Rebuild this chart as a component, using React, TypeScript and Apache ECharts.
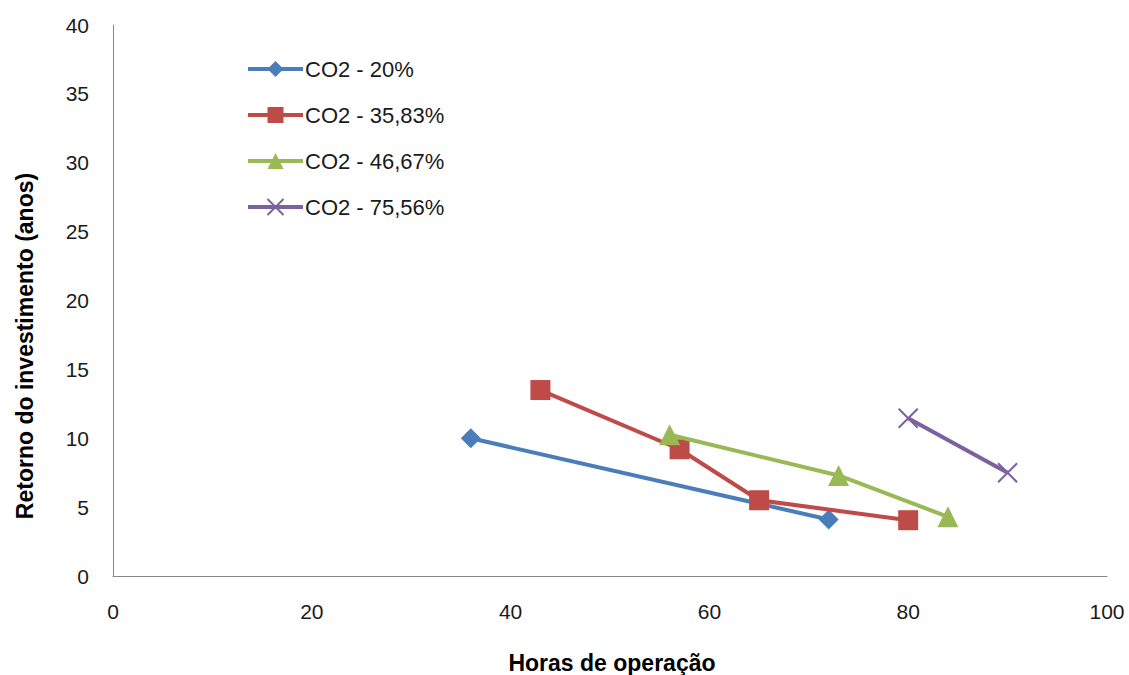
import React, { useEffect, useRef } from "react";
import * as echarts from "echarts";

const seriesNames = ["CO2 - 20%", "CO2 - 35,83%", "CO2 - 46,67%", "CO2 - 75,56%"];
const blueData = [[36, 10.0], [72, 4.1]];
const redData = [[43, 13.5], [57, 9.2], [65, 5.5], [80, 4.05]];
const greenData = [[56, 10.25], [73, 7.3], [84, 4.3]];
const purpleData = [[80, 11.45], [90, 7.5]];
const colors = ["#4A7EBB", "#BE4B48", "#98B954", "#7D60A0"];
const xTitle = "Horas de operação";
const yTitle = "Retorno do investimento (anos)";

const FONT = "Liberation Sans, Arial, sans-serif";

export default function App() {
  const ref = useRef<HTMLDivElement>(null);
  useEffect(() => {
    if (!ref.current) return;
    const chart = echarts.init(ref.current, null, { renderer: "svg" });
    const mk = (i: number, data: number[][], symbol: string, size: number, extra: any = {}) => ({
      type: "line",
      name: seriesNames[i],
      data,
      symbol,
      symbolSize: size,
      showAllSymbol: true,
      lineStyle: { color: colors[i], width: 4 },
      itemStyle: { color: colors[i], ...extra },
      emphasis: { disabled: true },
      z: 2 + i,
    });
    chart.setOption({
      animation: false,
      backgroundColor: "#fff",
      textStyle: { fontFamily: FONT },
      grid: { left: 113, right: 22, top: 25, bottom: 99, containLabel: false },
      legend: {
        orient: "vertical",
        left: 246,
        top: 58,
        padding: 0,
        itemWidth: 55,
        itemHeight: 20,
        itemGap: 24,
        lineStyle: { width: 4 },
        textStyle: { fontSize: 22, color: "#1a1a1a", fontFamily: FONT, padding: [0, 0, 0, -3] },
        data: seriesNames,
      },
      xAxis: {
        type: "value",
        min: 0,
        max: 100,
        interval: 20,
        axisLine: { lineStyle: { color: "#868686", width: 1 } },
        axisTick: { show: false },
        splitLine: { show: false },
        axisLabel: { fontSize: 21, color: "#1a1a1a", margin: 25, fontFamily: FONT },
      },
      yAxis: {
        type: "value",
        min: 0,
        max: 40,
        interval: 5,
        axisLine: { show: true, lineStyle: { color: "#868686", width: 1 } },
        axisTick: { show: false },
        splitLine: { show: false },
        axisLabel: { fontSize: 21, color: "#1a1a1a", margin: 24, fontFamily: FONT },
      },
      graphic: [
        {
          type: "text",
          x: 612,
          y: 663,
          style: {
            text: xTitle,
            font: "bold 23px " + FONT,
            fill: "#000",
            align: "center",
            verticalAlign: "middle",
          },
        },
        {
          type: "text",
          x: 25,
          y: 346,
          rotation: Math.PI / 2,
          style: {
            text: yTitle,
            font: "bold 23px " + FONT,
            fill: "#000",
            align: "center",
            verticalAlign: "middle",
          },
        },
      ],
      series: [
        mk(0, blueData, "diamond", 20),
        mk(1, redData, "rect", 20),
        mk(2, greenData, "triangle", 21),
        mk(3, purpleData, "path://M0,0 L10,10 M10,0 L0,10", 19, {
          borderColor: colors[3],
          borderWidth: 2,
          color: colors[3],
        }),
      ],
    });
    return () => chart.dispose();
  }, []);
  return (
    <div
      ref={ref}
      style={{ position: "absolute", left: 0, top: 0, width: 1129, height: 675 }}
    />
  );
}
